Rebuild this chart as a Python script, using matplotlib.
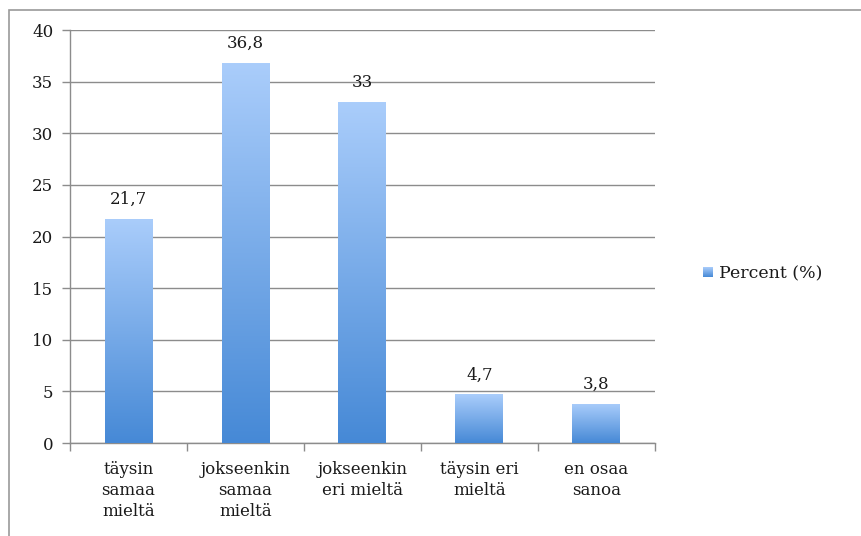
import numpy as np
import matplotlib.pyplot as plt
from matplotlib.colors import LinearSegmentedColormap
from matplotlib.patches import Rectangle

categories = ["täysin\nsamaa\nmieltä", "jokseenkin\nsamaa\nmieltä",
              "jokseenkin\neri mieltä", "täysin eri\nmieltä", "en osaa\nsanoa"]
values = [21.7, 36.8, 33, 4.7, 3.8]
value_labels = ["21,7", "36,8", "33", "4,7", "3,8"]
series_name = "Percent (%)"

plt.rcParams['font.family'] = ['DejaVu Serif']
grey = '#8c8c8c'
text_color = '#1a1a1a'
fs = 12

# vertical gradient, dark at bottom -> light at top
grad_cmap = LinearSegmentedColormap.from_list('bar_grad', ['#4689d6', '#aacdfb'])
grad = np.linspace(0, 1, 256).reshape(-1, 1)

fig = plt.figure(figsize=(8.61, 5.36), dpi=100)
ax = fig.add_axes([0.0813, 0.1735, 0.6794, 0.7705])

x = np.arange(len(values))
bars = ax.bar(x, values, width=0.41, color='none', edgecolor='none', zorder=3)
for b in bars:
    x0, y0 = b.get_x(), b.get_y()
    im = ax.imshow(grad, cmap=grad_cmap, aspect='auto', origin='lower',
                   extent=[x0, x0 + b.get_width(), y0, y0 + b.get_height()], zorder=3)
    im.set_clip_path(b)

for xi, v, lab in zip(x, values, value_labels):
    ax.annotate(lab, (xi, v), xytext=(0, 8), textcoords='offset points',
                ha='center', va='bottom', fontsize=fs, color=text_color)

ax.set_xlim(-0.5, len(values) - 0.5)
ax.set_ylim(0, 40)
ax.set_yticks(np.arange(0, 41, 5))
ax.set_xticks(np.arange(-0.5, len(values), 1.0))
ax.set_xticklabels([])
ax.set_xticks(x, minor=True)
ax.set_xticklabels(categories, minor=True, fontsize=fs, color=text_color,
                   linespacing=1.3)
ax.tick_params(axis='x', which='minor', length=0, pad=13)
ax.tick_params(axis='x', which='major', length=6, color=grey, width=1)
ax.tick_params(axis='y', length=6, color=grey, width=1, labelsize=fs,
               labelcolor=text_color, pad=6)

ax.grid(axis='y', color=grey, linewidth=1, zorder=0)
ax.set_axisbelow(True)
for s in ['top', 'right']:
    ax.spines[s].set_visible(False)
for s in ['left', 'bottom']:
    ax.spines[s].set_color(grey)
    ax.spines[s].set_linewidth(1)

# legend
leg_ax = fig.add_axes([703 / 861, 1 - 277 / 536, 10 / 861, 10 / 536])
leg_ax.imshow(grad, cmap=grad_cmap, aspect='auto', origin='lower')
leg_ax.axis('off')
fig.text(719 / 861, 1 - 274 / 536, series_name, fontsize=fs + 0.5, color=text_color,
         va='center', ha='left')

# outer chart border
fig.patches.append(Rectangle((9 / 861, -0.1), 1.0, 1 - 10 / 536 + 0.1,
                             transform=fig.transFigure, fill=False,
                             edgecolor='#9a9a9a', linewidth=1.2))

fig.savefig('out.png', dpi=100)
